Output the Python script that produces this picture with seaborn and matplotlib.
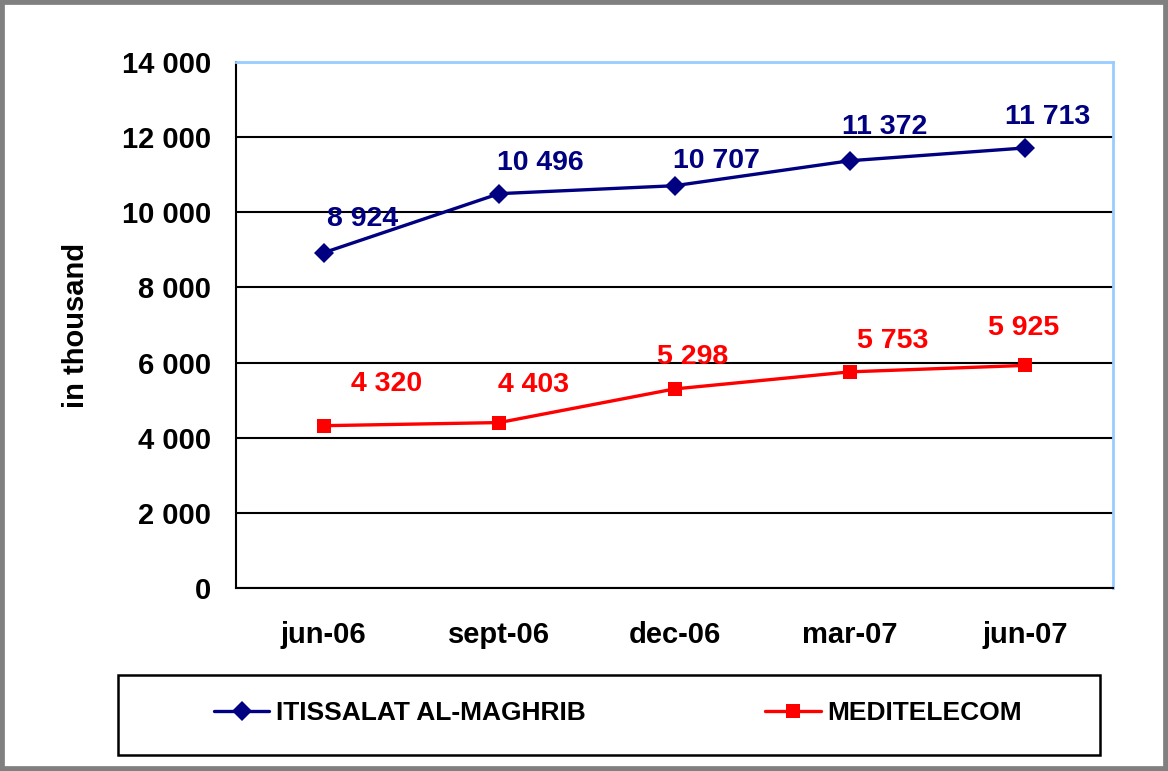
import pandas as pd
import numpy as np
import matplotlib
matplotlib.use("Agg")
import matplotlib.pyplot as plt
from matplotlib.patches import Rectangle
import seaborn as sns

# datos (en miles)
periodos = ["jun-06", "sept-06", "dec-06", "mar-07", "jun-07"]
iam = [8924, 10496, 10707, 11372, 11713]
meditel = [4320, 4403, 5298, 5753, 5925]
operadores = ["ITISSALAT AL-MAGHRIB", "MEDITELECOM"]

sns.set_theme(style="white")
plt.rcParams['font.family'] = ['Liberation Sans', 'DejaVu Sans']
plt.rcParams['font.weight'] = 'bold'
plt.rcParams['text.color'] = 'black'
plt.rcParams['axes.labelcolor'] = 'black'
plt.rcParams['xtick.color'] = 'black'
plt.rcParams['ytick.color'] = 'black'

df = pd.DataFrame({
    "periodo": periodos * 2,
    "valor": iam + meditel,
    "operador": [operadores[0]] * len(periodos) + [operadores[1]] * len(periodos),
})

azul = "#000080"
rojo = "#FF0000"

fig = plt.figure(figsize=(11.68, 7.71), dpi=100)
ax = fig.add_axes([236 / 1168, 1 - 588 / 771, 877 / 1168, 526 / 771])

sns.lineplot(data=df, x="periodo", y="valor", hue="operador", style="operador",
             palette=[azul, rojo], markers=["D", "s"], dashes=False,
             linewidth=2.4, markersize=10, markeredgewidth=0, ax=ax)

# etiquetas de datos (desplazamientos en puntos)
desp_azul = [(28, 24), (30, 22), (30, 18), (25, 24), (16, 22)]
desp_rojo = [(45, 30), (25, 27), (13, 23), (31, 22), (-1, 27)]
for i, v in enumerate(iam):
    ax.annotate(f"{v:,}".replace(",", " "), (i, v), xytext=desp_azul[i],
                textcoords="offset points", ha="center", va="center",
                color=azul, fontsize=20.5, fontweight="bold")
for i, v in enumerate(meditel):
    ax.annotate(f"{v:,}".replace(",", " "), (i, v), xytext=desp_rojo[i],
                textcoords="offset points", ha="center", va="center",
                color=rojo, fontsize=20.5, fontweight="bold")

ax.set_xlim(-0.5, 4.5)
ax.set_ylim(0, 14000)
ax.set_yticks(np.arange(0, 14001, 2000))
ax.set_yticklabels([f"{int(v):,}".replace(",", " ") for v in np.arange(0, 14001, 2000)])
ax.set_xticks(np.arange(-0.5, 5, 1))
ax.set_xticklabels([])
ax.set_xticks(range(len(periodos)), labels=periodos, minor=True)

ax.tick_params(axis="y", which="major", direction="out", length=5, width=1.5,
               color="black", pad=13, labelsize=21, labelcolor="black")
ax.tick_params(axis="x", which="major", direction="out", length=5, width=1.5,
               color="black")
ax.tick_params(axis="x", which="minor", length=0, pad=24, labelsize=21,
               labelcolor="black")
for t in ax.get_xticklabels(minor=True) + ax.get_yticklabels():
    t.set_fontweight("bold")

ax.yaxis.grid(True, color="black", linewidth=1.5)
ax.set_axisbelow(True)
ax.spines["left"].set_color("black")
ax.spines["bottom"].set_color("black")
ax.spines["left"].set_linewidth(1.5)
ax.spines["bottom"].set_linewidth(1.5)
ax.spines["top"].set_color("#99CCFF")
ax.spines["right"].set_color("#99CCFF")
ax.spines["top"].set_linewidth(2)
ax.spines["right"].set_linewidth(2)

ax.set_xlabel("")
ax.set_ylabel("in thousand", fontsize=21, fontweight="bold", color="black")
ax.yaxis.set_label_coords((90 - 236) / 877, 0.5)

handles, labels = ax.get_legend_handles_labels()
ax.get_legend().remove()
fig.legend(handles, labels, loc="center", bbox_to_anchor=(618 / 1168, 1 - 713 / 771),
           ncol=2, frameon=False, handlelength=2.1, handletextpad=0.25,
           columnspacing=6.8, prop={"weight": "bold", "size": 19})

# recuadro de la leyenda y marco gris
fig.patches.append(Rectangle((118 / 1168, 1 - 755 / 771), 982 / 1168, 80 / 771,
                             transform=fig.transFigure, fill=False,
                             edgecolor="black", linewidth=1.8))
fig.patches.append(Rectangle((0, 0), 1, 1, transform=fig.transFigure, fill=False,
                             edgecolor="#808080", linewidth=7))

fig.savefig("out.png", dpi=100)
